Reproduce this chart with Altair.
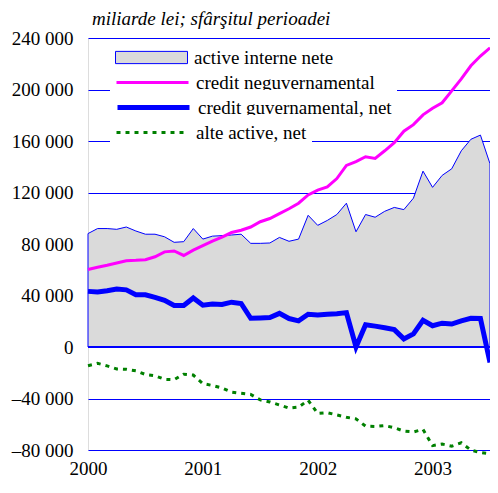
import altair as alt
import pandas as pd

# ---- data (monthly, Jan 2000 .. Jul 2003) ----
month_index = list(range(43))
active_interne = [88100, 92000, 92000, 91400, 93200, 90100, 87600, 87600, 85600, 81300,
                  81800, 92000, 83800, 86100, 86500, 87000, 87600, 80500, 80500, 80800,
                  85100, 82100, 83800, 102300, 94500, 98300, 102900, 111700, 89500, 102900,
                  100800, 105400, 108400, 106700, 115600, 136600, 124000, 133300, 138400, 152400,
                  161300, 164600, 142300]
credit_neguv = [60200, 62000, 63500, 65300, 67000, 67300, 67800, 70100, 73900, 74600,
                71100, 75200, 78700, 82200, 85300, 88900, 90700, 93200, 97300, 99800,
                103600, 107400, 111700, 118100, 121900, 124400, 130800, 141000, 144000, 147800,
                146500, 152400, 158700, 167600, 172700, 180300, 185400, 189700, 198900, 208200,
                218400, 226000, 232400]
credit_guv = [43200, 42700, 43700, 45000, 44400, 40600, 40600, 38600, 36300, 32200,
              32200, 38100, 32500, 33400, 33000, 34800, 33800, 22300, 22600, 22900,
              26100, 22100, 20300, 25400, 24900, 25400, 25900, 26700, 0, 17300,
              16200, 15000, 13500, 6300, 10200, 20800, 16500, 18500, 17800, 20300,
              22300, 22100, -12000]
alte_active = [-14500, -12700, -14700, -17000, -17300, -18500, -21300, -22300, -25100, -25400,
               -21100, -21800, -28400, -29900, -31800, -35000, -36000, -36800, -41100, -42700,
               -45000, -47500, -46700, -41400, -51600, -51000, -52800, -54600, -55800, -61500,
               -61700, -61000, -62700, -65300, -66000, -64000, -76600, -75400, -77000, -74400,
               -80000, -82000, -83000]

series_names = ["active interne nete", "credit neguvernamental",
                "credit guvernamental, net", "alte active, net"]
series_colors = ["#dadada", "#ff00ff", "#0000ff", "#008000"]
x_ticks = [2000, 2001, 2002, 2003]
y_ticks = [-80000, -40000, 0, 40000, 80000, 120000, 160000, 200000, 240000]
zero_line = [0]
# trailing no-break spaces so the white legend boxes share one right edge
legend_pad = [13, 4, 1, 19]

FONT = "Liberation Serif"

t = [2000 + m / 12 for m in month_index]
area_df = pd.DataFrame({"t": t, "v": active_interne, "s1": series_names[0]})
neguv_df = pd.DataFrame({"t": t, "v": credit_neguv, "s2": series_names[1]})
guv_df = pd.DataFrame({"t": t, "v": credit_guv, "s3": series_names[2]})
alte_df = pd.DataFrame({"t": t, "v": alte_active, "s4": series_names[3]})
zero_df = pd.DataFrame({"v": zero_line})

x_enc = alt.X("t:Q",
              scale=alt.Scale(domain=[2000, 2000 + 42 / 12], nice=False, zero=False),
              axis=alt.Axis(values=x_ticks, format="d", title=None, grid=False,
                            domain=False, ticks=False, labelFont=FONT, labelFontSize=19,
                            labelColor="black", labelPadding=9, labelFlush=False))
y_enc = alt.Y("v:Q",
              scale=alt.Scale(domain=[-80000, 240000], nice=False, zero=False),
              axis=alt.Axis(values=y_ticks, title=None, domain=False, ticks=False,
                            grid=True, gridColor="#0000ff", gridWidth=1, gridOpacity=1,
                            labelFont=FONT, labelFontSize=19, labelColor="black",
                            labelPadding=15,
                            labelExpr="replace(replace(replace(format(datum.value, ','), ',', ' '), '\u2212', '\u2013'), '-', '\u2013')"))


def leg(row, **kw):
    pad = "\u00a0" * legend_pad[row]
    return alt.Legend(title=None, orient="none", legendX=22, legendY=2 + 25 * row,
                      fillColor="white", padding=5,
                      labelFont=FONT, labelFontSize=19, labelColor="black",
                      labelLimit=400, symbolSize=5184, clipHeight=25,
                      labelOffset=6, symbolOpacity=1,
                      labelExpr=f"datum.label + '{pad}'", **kw)


area = alt.Chart(area_df).mark_area(stroke="#0000ff", strokeWidth=1,
                                    opacity=1, fillOpacity=1).encode(
    x=x_enc, y=y_enc,
    fill=alt.Fill("s1:N", scale=alt.Scale(domain=[series_names[0]], range=[series_colors[0]]),
                  legend=leg(0, symbolType="M-1,-0.17H1V0.17H-1Z",
                             symbolStrokeColor="#0000ff", symbolStrokeWidth=1,
                             symbolFillColor=series_colors[0])))
zero = alt.Chart(zero_df).mark_rule(color="#0000ff", strokeWidth=2).encode(y=y_enc)
neguv = alt.Chart(neguv_df).mark_line(strokeWidth=3).encode(
    x=x_enc, y=y_enc,
    stroke=alt.Stroke("s2:N", scale=alt.Scale(domain=[series_names[1]], range=[series_colors[1]]),
                      legend=leg(1, symbolType="stroke", symbolStrokeWidth=3)))
guv = alt.Chart(guv_df).mark_line(strokeWidth=5, color=series_colors[2]).encode(
    x=x_enc, y=y_enc,
    opacity=alt.Opacity("s3:O", scale=alt.Scale(domain=[series_names[2]], range=[1]),
                        legend=leg(2, symbolType="stroke", symbolStrokeWidth=5,
                                   symbolStrokeColor=series_colors[2])))
alte = alt.Chart(alte_df).mark_line(strokeWidth=3, color=series_colors[3]).encode(
    x=x_enc, y=y_enc,
    strokeDash=alt.StrokeDash("s4:N", scale=alt.Scale(domain=[series_names[3]], range=[[4, 5]]),
                              legend=leg(3, symbolType="stroke", symbolStrokeWidth=3,
                                         symbolStrokeColor=series_colors[3], symbolDash=[4, 5])))

chart = alt.layer(area, zero, neguv, guv, alte).resolve_scale(
    fill="independent", stroke="independent", opacity="independent", strokeDash="independent"
).properties(
    width=402, height=412,
    title=alt.TitleParams("miliarde lei; sfârşitul perioadei", anchor="start", frame="group",
                          font=FONT, fontSize=19, fontStyle="italic", fontWeight="normal",
                          color="black", dx=4, dy=18, offset=3, baseline="alphabetic"),
    autosize=alt.AutoSizeParams(type="none"),
    padding={"left": 80, "top": 30, "right": 0, "bottom": 29},
).configure_view(stroke=None).configure(background="white")

chart.save("out.html", embed_options={"renderer": "svg", "actions": False})
